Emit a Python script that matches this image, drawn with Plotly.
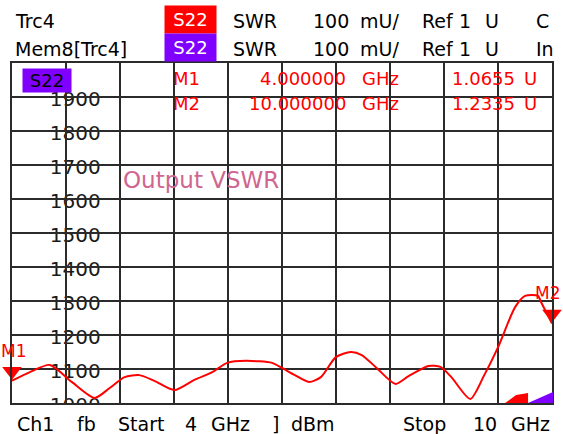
import plotly.graph_objects as go

# S22 SWR trace (y in the screen's own units, 1000 = 1.000 U)
freq_ghz = [4.000, 4.199, 4.421, 4.664, 4.919, 5.085, 5.251, 5.417, 5.583, 5.804,
            6.026, 6.225, 6.391, 6.601, 6.889, 7.000, 7.144, 7.299, 7.432, 7.598,
            7.764, 7.886, 8.052, 8.262, 8.406, 8.627, 8.760, 8.882, 9.092, 9.247,
            9.402, 9.590, 9.701, 9.845, 9.878, 10.000]
swr_mu = [1065.5, 1091, 1112, 1062, 1015, 1044, 1076, 1082, 1065, 1038,
          1068, 1091, 1118, 1124, 1118, 1103, 1082, 1062, 1076, 1135,
          1150, 1141, 1103, 1056, 1079, 1109, 1106, 1076, 1012, 1082,
          1165, 1282, 1315, 1315, 1297, 1233.5]

marker_names = ["M1", "M2"]
marker_freq = [4.0, 10.0]
marker_swr = [1065.5, 1233.5]
marker_freq_text = ["4.000000", "10.000000"]
marker_swr_text = ["1.0655", "1.2335"]

y_ticks = [1000, 1100, 1200, 1300, 1400, 1500, 1600, 1700, 1800, 1900]
y_tick_labels = [str(v) for v in y_ticks]

FONT = "DejaVu Sans"
GRID = "#2b2b2b"
RED = "#ff0000"
PURPLE = "#8000ff"
MU_PER_PX = 1000 / 340

# plot area in pixels: left 12, right 554, top 63, bottom 403
def px(x):
    return (x - 12) / 542

def py(y):
    return (403 - y) / 340

def text(t, x, y, anchor="left", size=18, color="#000000", **kw):
    return dict(text=t, x=px(x), y=py(y), xref="paper", yref="paper",
                xanchor=anchor, yanchor="middle", showarrow=False,
                font=dict(family=FONT, size=size, color=color), **kw)

fig = go.Figure()

fig.add_trace(go.Scatter(
    x=freq_ghz, y=swr_mu, mode="lines",
    line=dict(color=RED, width=2, shape="spline", smoothing=0.7),
    hoverinfo="skip", showlegend=False
))

# marker triangles sit just above the point, tip on the value
fig.add_trace(go.Scatter(
    x=marker_freq, y=[v + 9.5 * MU_PER_PX for v in marker_swr],
    mode="markers", cliponaxis=False,
    marker=dict(symbol="triangle-down", size=17, color=RED),
    hoverinfo="skip", showlegend=False
))

fig.update_layout(
    width=563, height=434,
    margin=dict(l=12, r=9, t=63, b=31),
    paper_bgcolor="white", plot_bgcolor="white",
    showlegend=False
)
fig.update_xaxes(range=[4, 10], tick0=4, dtick=0.6, showticklabels=False,
                 showgrid=True, gridcolor=GRID, gridwidth=2, zeroline=False,
                 showline=True, linecolor=GRID, linewidth=2, mirror=True)
fig.update_yaxes(range=[1000, 2000], tick0=1000, dtick=100, showticklabels=False,
                 showgrid=True, gridcolor=GRID, gridwidth=2, zeroline=False,
                 showline=True, linecolor=GRID, linewidth=2, mirror=True)

# y labels sit in white boxes over the grid, under the trace
for v, t in zip(y_ticks, y_tick_labels):
    fig.add_shape(type="rect", layer="between", xref="paper", x0=px(35), x1=px(107),
                  yref="y", y0=v - 13 * MU_PER_PX, y1=v + 12 * MU_PER_PX,
                  fillcolor="white", line=dict(width=0),
                  label=dict(text=t, textposition="middle right", padding=3,
                             font=dict(family=FONT, size=20, color="#1a1a1a")))

# white footer band hides the lower half of the 1000 label
fig.add_shape(type="rect", layer="above", xref="paper", yref="paper",
              x0=px(0), x1=px(563), y0=py(434), y1=py(405),
              fillcolor="white", line=dict(width=0))

# little trace indicators in the bottom right corner
fig.add_shape(type="path", layer="above", xref="paper", yref="paper",
              path=f"M {px(507)},{py(403)} L {px(518)},{py(395)} L {px(530)},{py(393)} "
                   f"L {px(530)},{py(403)} Z",
              fillcolor=RED, line=dict(width=0))
fig.add_shape(type="path", layer="above", xref="paper", yref="paper",
              path=f"M {px(530)},{py(403)} L {px(555)},{py(392)} L {px(555)},{py(403)} Z",
              fillcolor=PURPLE, line=dict(width=0))

ann = []

# header rows, words centred on where the screen font put them
for row_y, name, box_color, tail in [(21, "Trc4", RED, "C"), (49.5, "Mem8[Trc4]", PURPLE, "In")]:
    ann.append(text(name, 13, row_y, size=19))
    ann.append(text("S22", 191.5, row_y - 2, anchor="center", color="white",
                    bgcolor=box_color, width=51, height=27, borderpad=0))
    for word, x in [("SWR", 256), ("100", 332), ("mU/", 381), ("Ref", 440), ("1", 467), ("U", 494)]:
        ann.append(text(word, x, row_y, anchor="center", size=19))
    ann.append(text(tail, 536, row_y, size=19))

# marker readout table
for i, name in enumerate(marker_names):
    row_y = 78.5 + 25 * i
    ann.append(text(name, 172, row_y, color=RED))
    ann.append(text(marker_freq_text[i], 349, row_y, anchor="right", color=RED))
    ann.append(text("GHz", 361, row_y, color=RED))
    ann.append(text(marker_swr_text[i], 519, row_y, anchor="right", color=RED))
    ann.append(text("U", 524, row_y, color=RED))

# marker labels next to the triangles, kept inside the window
ann.append(dict(text=marker_names[0], x=marker_freq[0], y=marker_swr[0], xref="x", yref="y",
                xanchor="left", yanchor="middle", xshift=-13, yshift=30, showarrow=False,
                font=dict(family=FONT, size=17, color=RED)))
ann.append(dict(text=marker_names[1], x=marker_freq[1], y=marker_swr[1], xref="x", yref="y",
                xanchor="right", yanchor="middle", xshift=10, yshift=31, showarrow=False,
                font=dict(family=FONT, size=17, color=RED)))

# trace tag inside the grid
ann.append(text("S22", 47, 80.5, anchor="center", bgcolor=PURPLE, width=48, height=23, borderpad=0))

ann.append(text("Output VSWR", 121, 180, size=23, color="#d0668f"))

# footer
for word, x in [("Ch1", 36), ("fb", 87), ("Start", 141), ("4", 192), ("GHz", 231),
                ("]", 276), ("dBm", 314), ("Stop", 426), ("10", 487), ("GHz", 532)]:
    ann.append(text(word, x, 424, anchor="center", size=19))

fig.update_layout(annotations=ann)

# page body margin would push the 563x434 figure off the window
fig.write_html("out.html", config={"displayModeBar": False},
               post_script="document.body.style.margin='0';")
